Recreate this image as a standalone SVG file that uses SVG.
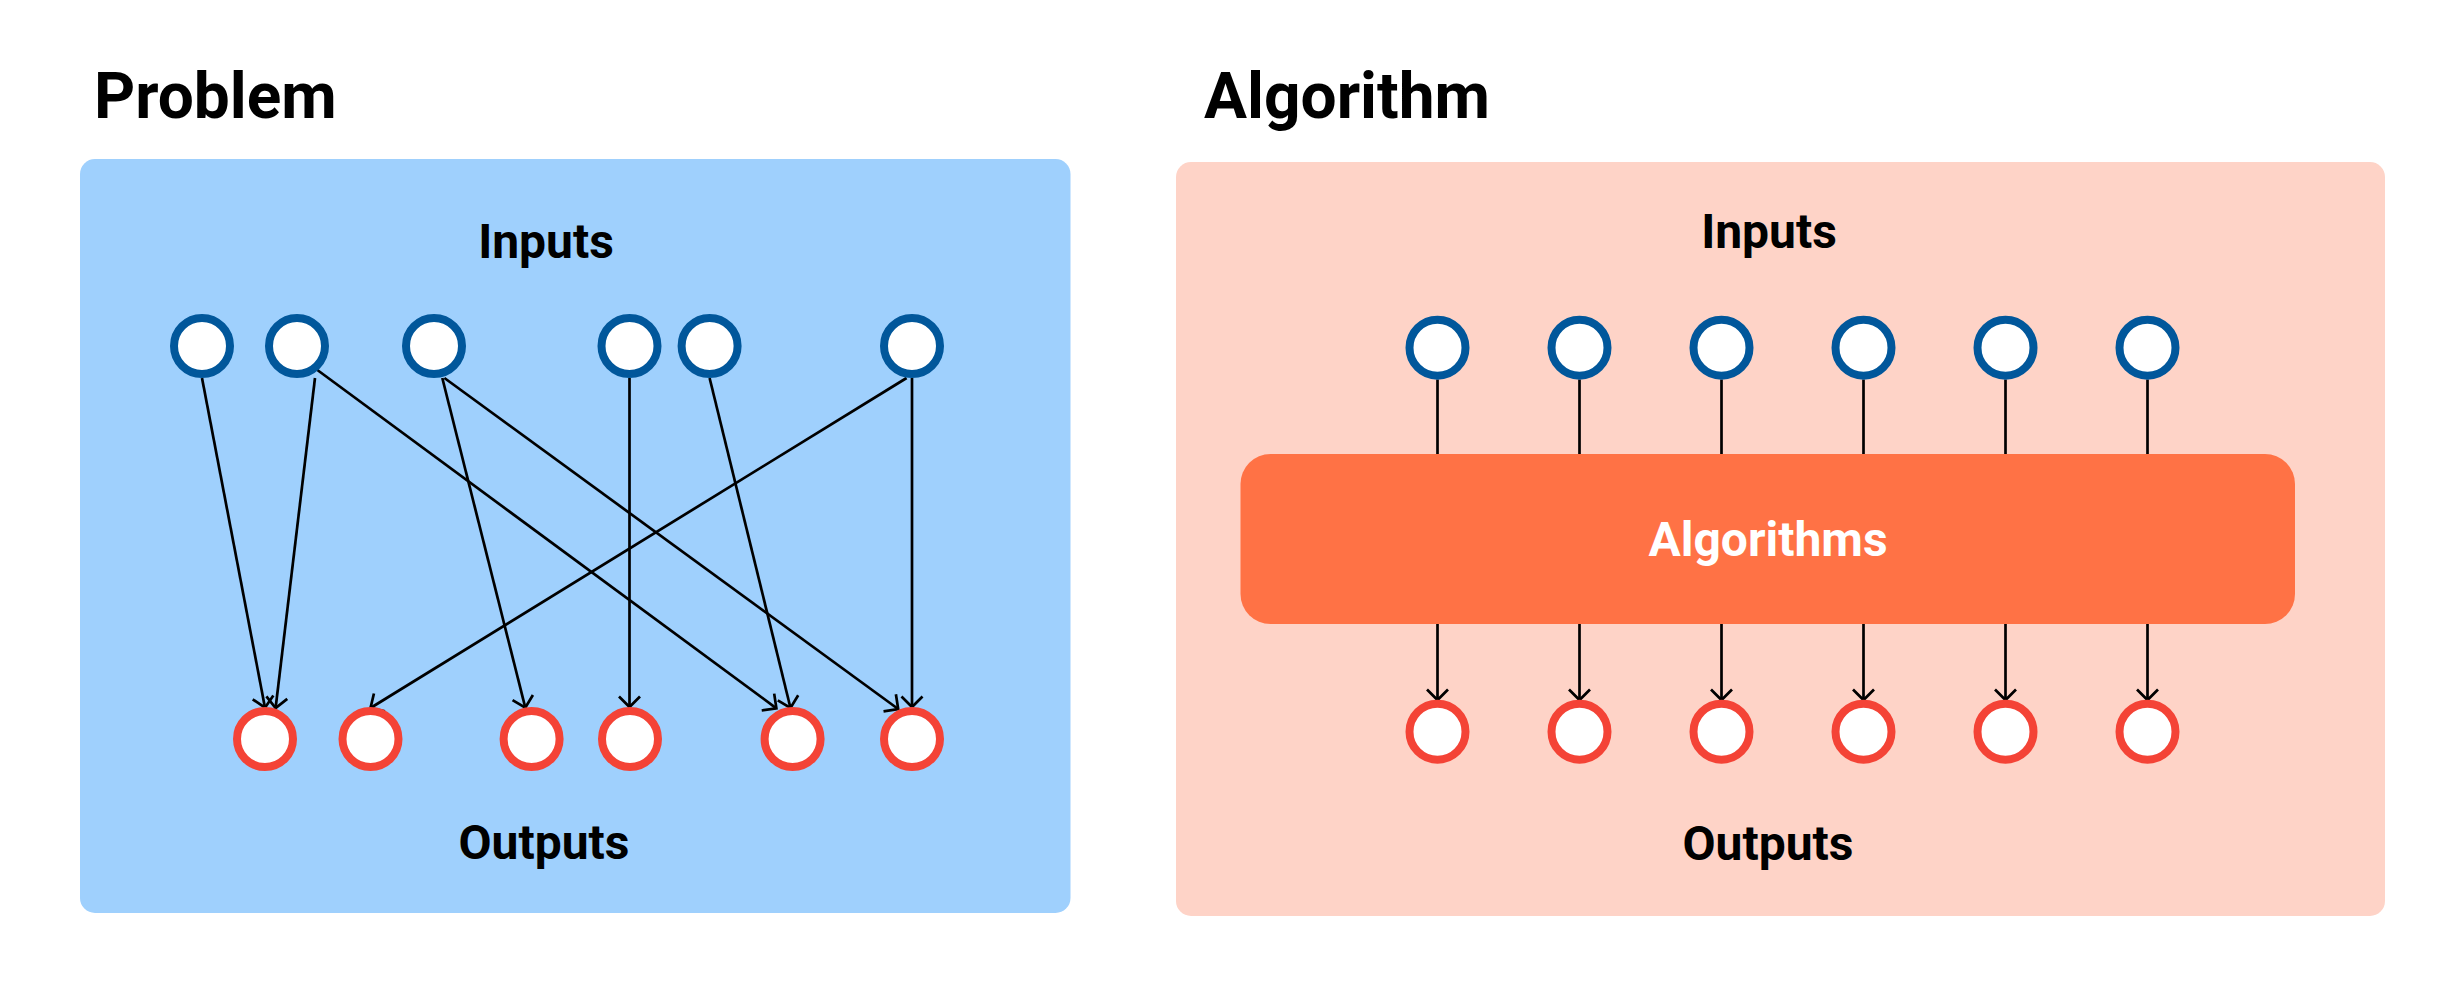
<svg xmlns="http://www.w3.org/2000/svg" width="2463" height="986" viewBox="0 0 2463 986">
<style>
.title{font-family:Roboto,"Liberation Sans",sans-serif;font-weight:700;font-size:64px;fill:#000}
.lbl{font-family:Roboto,"Liberation Sans",sans-serif;font-weight:700;font-size:48px;fill:#000;text-anchor:middle}
.in{fill:#fff;stroke:#01579B;stroke-width:8}
.out{fill:#fff;stroke:#F44336;stroke-width:8}
.edge{stroke:#000;stroke-width:2.7;fill:none}
.arr{marker-end:url(#ah)}
</style>
<defs>
<marker id="ah" markerUnits="userSpaceOnUse" viewBox="-15 -15 30 30" markerWidth="30" markerHeight="30" refX="0" refY="0" orient="auto" overflow="visible">
<path d="M-10.5,-10.5 L0,0 L-10.5,10.5" fill="none" stroke="#000" stroke-width="2.7" stroke-linejoin="miter"/>
</marker>
</defs>
<rect width="2463" height="986" fill="#fff"/>

<g id="problem-panel">
<text class="title" x="94" y="118">Problem</text>
<rect x="80" y="159" width="990.5" height="754" rx="15" fill="#9FD0FD"/>
<text class="lbl" x="546" y="258">Inputs</text>
<text class="lbl" x="544" y="859">Outputs</text>
</g>

<g id="algorithm-panel">
<text class="title" x="1204" y="118">Algorithm</text>
<rect x="1176" y="162" width="1209" height="754" rx="15" fill="#FED3C7"/>
<text class="lbl" x="1769" y="248">Inputs</text>
<text class="lbl" x="1768" y="860">Outputs</text>
</g>

<g id="connectors">
<line class="edge arr" x1="202" y1="378" x2="265" y2="707.7"/>
<line class="edge arr" x1="315" y1="378" x2="275.6" y2="708"/>
<line class="edge arr" x1="316" y1="369" x2="776.4" y2="708.3"/>
<line class="edge arr" x1="442.3" y1="378" x2="525.3" y2="707.7"/>
<line class="edge arr" x1="444.4" y1="378" x2="898.2" y2="709"/>
<line class="edge arr" x1="629.5" y1="378" x2="629.5" y2="707"/>
<line class="edge arr" x1="709.6" y1="378" x2="790.5" y2="708"/>
<line class="edge arr" x1="906.6" y1="378" x2="370.5" y2="708"/>
<line class="edge arr" x1="912" y1="378" x2="912" y2="707"/>

<line class="edge" x1="1437.5" y1="379.5" x2="1437.5" y2="454"/>
<line class="edge" x1="1579.5" y1="379.5" x2="1579.5" y2="454"/>
<line class="edge" x1="1721.5" y1="379.5" x2="1721.5" y2="454"/>
<line class="edge" x1="1863.5" y1="379.5" x2="1863.5" y2="454"/>
<line class="edge" x1="2005.5" y1="379.5" x2="2005.5" y2="454"/>
<line class="edge" x1="2147.5" y1="379.5" x2="2147.5" y2="454"/>

<line class="edge arr" x1="1437.5" y1="624" x2="1437.5" y2="700"/>
<line class="edge arr" x1="1579.5" y1="624" x2="1579.5" y2="700"/>
<line class="edge arr" x1="1721.5" y1="624" x2="1721.5" y2="700"/>
<line class="edge arr" x1="1863.5" y1="624" x2="1863.5" y2="700"/>
<line class="edge arr" x1="2005.5" y1="624" x2="2005.5" y2="700"/>
<line class="edge arr" x1="2147.5" y1="624" x2="2147.5" y2="700"/>
</g>

<g id="p-in1"><circle class="in" cx="202" cy="346" r="28"/></g>
<g id="p-in2"><circle class="in" cx="297" cy="346" r="28"/></g>
<g id="p-in3"><circle class="in" cx="434" cy="346" r="28"/></g>
<g id="p-in4"><circle class="in" cx="629.5" cy="346" r="28"/></g>
<g id="p-in5"><circle class="in" cx="709.6" cy="346" r="28"/></g>
<g id="p-in6"><circle class="in" cx="912" cy="346" r="28"/></g>

<g id="p-out1"><circle class="out" cx="265" cy="739" r="28"/></g>
<g id="p-out2"><circle class="out" cx="370.5" cy="739" r="28"/></g>
<g id="p-out3"><circle class="out" cx="531.6" cy="739" r="28"/></g>
<g id="p-out4"><circle class="out" cx="630" cy="739" r="28"/></g>
<g id="p-out5"><circle class="out" cx="792.6" cy="739" r="28"/></g>
<g id="p-out6"><circle class="out" cx="912" cy="739" r="28"/></g>

<g id="a-in1"><circle class="in" cx="1437.5" cy="347.7" r="28"/></g>
<g id="a-in2"><circle class="in" cx="1579.5" cy="347.7" r="28"/></g>
<g id="a-in3"><circle class="in" cx="1721.5" cy="347.7" r="28"/></g>
<g id="a-in4"><circle class="in" cx="1863.5" cy="347.7" r="28"/></g>
<g id="a-in5"><circle class="in" cx="2005.5" cy="347.7" r="28"/></g>
<g id="a-in6"><circle class="in" cx="2147.5" cy="347.7" r="28"/></g>

<g id="algorithms">
<rect x="1240.5" y="454" width="1054.5" height="170" rx="30" fill="#FF7245"/>
<text class="lbl" x="1768" y="556" style="fill:#fff">Algorithms</text>
</g>

<g id="a-out1"><circle class="out" cx="1437.5" cy="731.7" r="28"/></g>
<g id="a-out2"><circle class="out" cx="1579.5" cy="731.7" r="28"/></g>
<g id="a-out3"><circle class="out" cx="1721.5" cy="731.7" r="28"/></g>
<g id="a-out4"><circle class="out" cx="1863.5" cy="731.7" r="28"/></g>
<g id="a-out5"><circle class="out" cx="2005.5" cy="731.7" r="28"/></g>
<g id="a-out6"><circle class="out" cx="2147.5" cy="731.7" r="28"/></g>
</svg>
